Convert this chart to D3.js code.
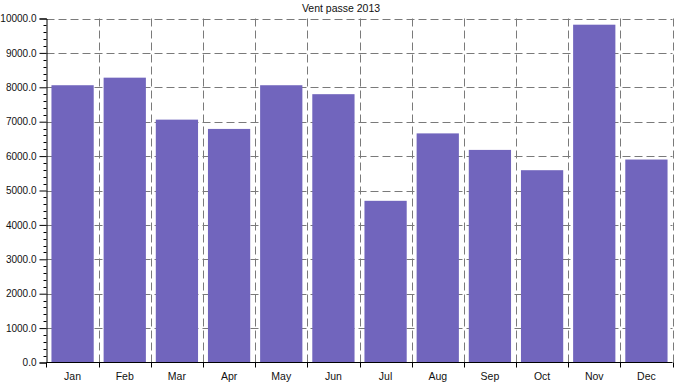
<!DOCTYPE html>
<html>
<head>
<meta charset="utf-8">
<script src="https://cdn.jsdelivr.net/npm/d3@7"></script>
<style>
  html, body { margin: 0; padding: 0; background: #fff; }
  svg { display: block; }
  text { font-family: "Liberation Sans", Arial, sans-serif; fill: #111; }
</style>
</head>
<body>
<svg id="chart" width="677" height="384"></svg>
<script>
const title = "Vent passe 2013";
const months = ["Jan", "Feb", "Mar", "Apr", "May", "Jun", "Jul", "Aug", "Sep", "Oct", "Nov", "Dec"];
const sales = [8060, 8280, 7060, 6790, 8060, 7800, 4700, 6660, 6180, 5590, 9820, 5900];
const yTickValues = [0, 1000, 2000, 3000, 4000, 5000, 6000, 7000, 8000, 9000, 10000];

(function () {
const mLeft = 46.5, mRight = 672.5, mTop = 18.5, mBottom = 362.5;

const svg = d3.select("#chart");

const x = d3.scaleBand().domain(months).range([mLeft, mRight]).paddingInner(0.19).paddingOuter(0.095);
const y = d3.scaleLinear().domain([0, 10000]).range([mBottom, mTop]);

// Grid
const grid = svg.append("g").attr("stroke", "#7a7a7a").attr("stroke-width", 1).attr("stroke-dasharray", "8,4").attr("fill", "none");
grid.selectAll("line.h").data(yTickValues.filter(d => d > 0)).join("line")
  .attr("class", "h")
  .attr("x1", mLeft).attr("x2", mRight)
  .attr("y1", d => Math.round(y(d)) + 0.5).attr("y2", d => Math.round(y(d)) + 0.5);

const step = x.step();
const boundaries = months.map((m, i) => Math.round(mLeft + step * (i + 1)) + 0.5);
grid.selectAll("line.v").data(boundaries).join("line")
  .attr("class", "v")
  .attr("x1", d => d).attr("x2", d => d)
  .attr("y1", mTop).attr("y2", mBottom);

// Bars
svg.append("g").selectAll("rect").data(months).join("rect")
  .attr("x", d => x(d))
  .attr("width", x.bandwidth())
  .attr("y", (d, i) => y(sales[i]))
  .attr("height", (d, i) => mBottom - y(sales[i]))
  .attr("fill", "#7165bd");

// Y axis
const yAxis = d3.axisLeft(y).tickValues(yTickValues).tickFormat(d3.format(".1f")).tickSize(7).tickPadding(3);
const gy = svg.append("g").attr("transform", `translate(${mLeft},0)`).call(yAxis);
gy.select(".domain").attr("stroke", "#000");
gy.selectAll(".tick line").attr("stroke", "#000");
gy.selectAll(".tick text").attr("font-size", 10).style("font-family", "'Liberation Sans', Arial, sans-serif").attr("fill", "#111");

// minor ticks
const minor = d3.range(0, 10000, 200).filter(v => v % 1000 !== 0);
svg.append("g").selectAll("line").data(minor).join("line")
  .attr("x1", mLeft - 3).attr("x2", mLeft)
  .attr("y1", d => Math.round(y(d)) + 0.5).attr("y2", d => Math.round(y(d)) + 0.5)
  .attr("stroke", "#000");

// X axis
const gx = svg.append("g").attr("transform", `translate(0,${mBottom})`);
gx.append("line").attr("x1", mLeft).attr("x2", mRight).attr("y1", 0).attr("y2", 0).attr("stroke", "#000");
gx.selectAll("line.t").data([mLeft].concat(boundaries)).join("line")
  .attr("class", "t")
  .attr("x1", d => d).attr("x2", d => d).attr("y1", 0).attr("y2", 5).attr("stroke", "#000");
gx.selectAll("text").data(months).join("text")
  .attr("x", d => x(d) + x.bandwidth() / 2)
  .attr("y", 17)
  .attr("text-anchor", "middle")
  .attr("font-size", 10.5)
  .text(d => d);

// Title
svg.append("text")
  .attr("x", 341).attr("y", 12)
  .attr("text-anchor", "middle")
  .attr("font-size", 10.5)
  .text(title);
})();
</script>
</body>
</html>
